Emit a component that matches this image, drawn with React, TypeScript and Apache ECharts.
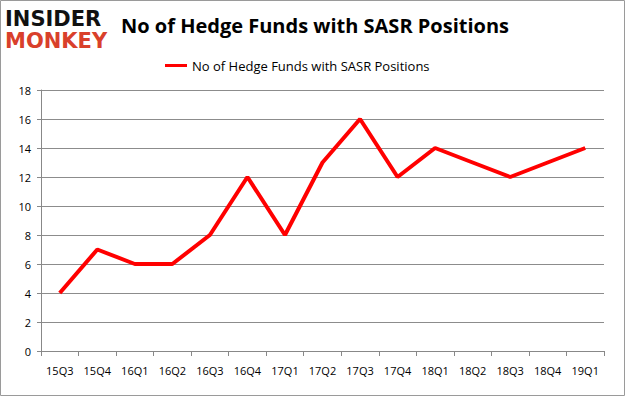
import React, { useEffect, useRef } from "react";
import * as echarts from "echarts";

const categories = ["15Q3","15Q4","16Q1","16Q2","16Q3","16Q4","17Q1","17Q2","17Q3","17Q4","18Q1","18Q2","18Q3","18Q4","19Q1"];
const hedgeFunds = [4,7,6,6,8,12,8,13,16,12,14,13,12,13,14];
const seriesName = "No of Hedge Funds with SASR Positions";
const titleText = "No of Hedge Funds with SASR Positions";

export default function App() {
  const ref = useRef<HTMLDivElement>(null);
  useEffect(() => {
    const chart = echarts.init(ref.current!, null, { renderer: "svg" });
    chart.setOption({
      animation: false,
      backgroundColor: "#fff",
      title: {
        text: titleText,
        left: 116,
        top: 10,
        textStyle: { fontFamily: "Open Sans", fontSize: 20, fontWeight: "bold", color: "#000" },
      },
      legend: {
        data: [seriesName],
        top: 54,
        left: 160,
        itemWidth: 22,
        itemHeight: 3,
        itemGap: 5,
        icon: "rect",
        textStyle: { fontFamily: "Open Sans", fontSize: 13, color: "#000" },
      },
      grid: { left: 41, right: 22, top: 90, bottom: 46 },
      xAxis: {
        type: "category",
        data: categories,
        boundaryGap: true,
        axisLine: { lineStyle: { color: "#888" } },
        axisTick: { show: true, alignWithLabel: false, length: 5, lineStyle: { color: "#888" } },
        axisLabel: { color: "#000", fontFamily: "Open Sans", fontSize: 11, margin: 14 },
      },
      yAxis: {
        type: "value",
        min: 0,
        max: 18,
        interval: 2,
        axisLine: { show: true, lineStyle: { color: "#888" } },
        axisTick: { show: true, length: 4, lineStyle: { color: "#888" } },
        axisLabel: { color: "#000", fontFamily: "Open Sans", fontSize: 11, margin: 10 },
        splitLine: { lineStyle: { color: "#8c8c8c" } },
      },
      series: [
        {
          name: seriesName,
          type: "line",
          data: hedgeFunds,
          symbol: "none",
          lineStyle: { color: "#ff0000", width: 4 },
          itemStyle: { color: "#ff0000" },
        },
      ],
      graphic: [
        {
          type: "rect",
          shape: { x: 0.5, y: 0.5, width: 624, height: 395 },
          style: { fill: "none", stroke: "#9a9a9a", lineWidth: 1 },
        },
        {
          type: "text",
          left: 5,
          top: 8,
          style: { text: "INSIDER", fontFamily: "DejaVu Sans", fontSize: 21, fontWeight: 900, fill: "#111" },
        },
        {
          type: "text",
          left: 5,
          top: 30,
          style: { text: "MONKEY", fontFamily: "DejaVu Sans", fontSize: 21, fontWeight: 900, fill: "#d9402b" },
        },
      ],
    });
    return () => chart.dispose();
  }, []);
  return <div ref={ref} style={{ position: "fixed", left: 0, top: 0, width: 626, height: 397 }} />;
}
